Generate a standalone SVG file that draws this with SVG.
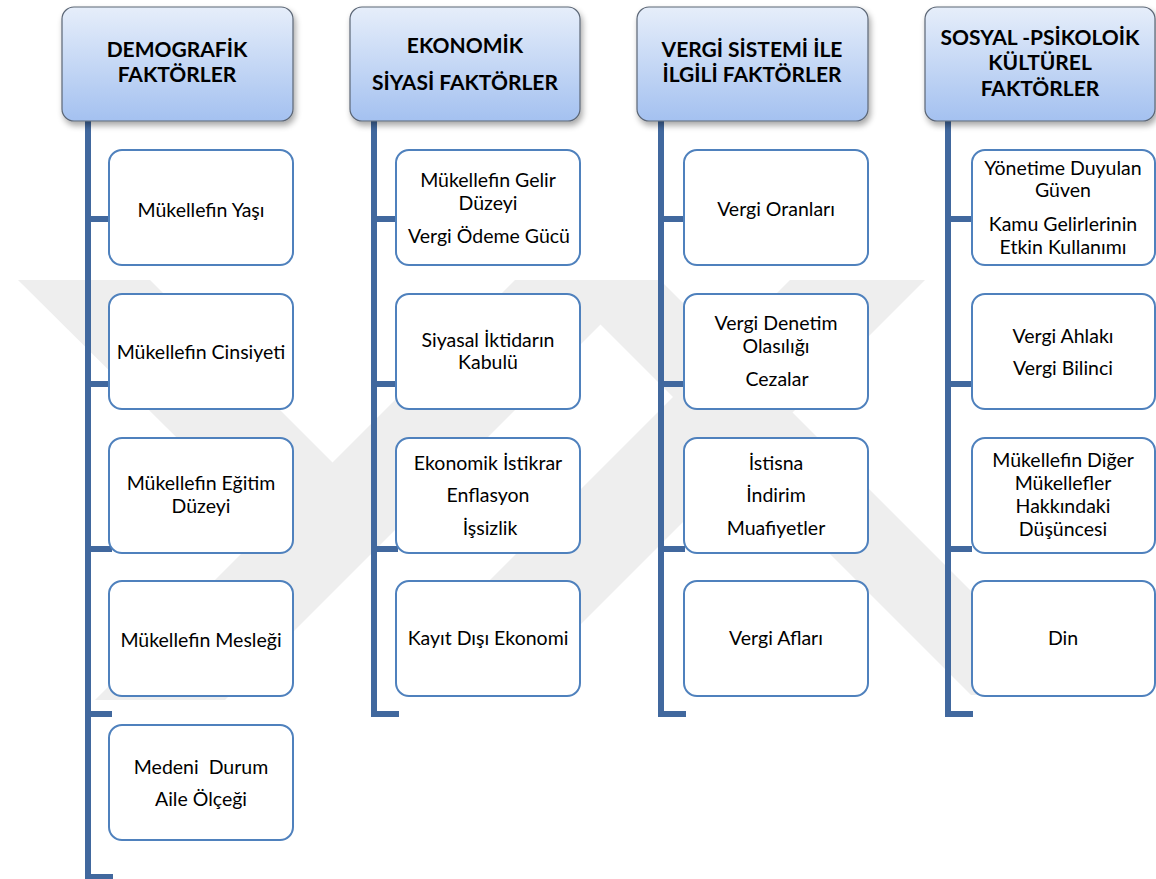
<svg xmlns="http://www.w3.org/2000/svg" width="1156" height="879" viewBox="0 0 1156 879">
<defs>
<linearGradient id="hg" x1="0" y1="0" x2="0" y2="1">
<stop offset="0" stop-color="#e6eefa"/>
<stop offset="1" stop-color="#a4c1f0"/>
</linearGradient>
<filter id="sh" x="-10%" y="-10%" width="125%" height="130%">
<feGaussianBlur in="SourceAlpha" stdDeviation="3"/>
<feOffset dx="2" dy="4" result="b"/>
<feComponentTransfer><feFuncA type="linear" slope="0.35"/></feComponentTransfer>
<feMerge><feMergeNode/><feMergeNode in="SourceGraphic"/></feMerge>
</filter>
</defs>
<style>
.hdr{fill:url(#hg);stroke:#5b6675;stroke-width:1.2}
.box{fill:#ffffff;stroke:#4f81bd;stroke-width:2}
.ht{font-family:Lato,"Liberation Sans",sans-serif;font-weight:bold;font-size:21px;fill:#000;text-anchor:middle}
.t{font-family:Lato,"Liberation Sans",sans-serif;font-size:19.5px;fill:#000;text-anchor:middle}
.ln{fill:none;stroke:#41689e;stroke-width:6}
.wm{fill:#eeeeee}
</style>
<rect width="1156" height="879" fill="#ffffff"/>
<g id="watermark">
<polygon class="wm" points="18,280 150,280 370,500 305,565"/>
<polygon class="wm" points="515,280 645,280 225,700 95,700"/>
<polygon class="wm" points="556,280 660,280 1075,695 971,695"/>
<polygon class="wm" points="790,280 925,280 560,645 425,645"/>
</g>
<g id="connectors">
<path class="ln" d="M88 121 V877 H113 M88 219 H112 M88 384 H112 M88 549 H112 M88 714 H112"/>
<path class="ln" d="M374 121 V714 H399 M374 219 H398 M374 384 H398 M374 549 H398"/>
<path class="ln" d="M661 121 V714 H686 M661 219 H685 M661 384 H685 M661 549 H685"/>
<path class="ln" d="M948 121 V714 H973 M948 219 H972 M948 384 H972 M948 549 H972"/>
</g>
<g id="h1"><rect class="hdr" filter="url(#sh)" x="62" y="7" width="231" height="114" rx="12"/><text class="ht" x="177" y="57">DEMOGRAFİK</text><text class="ht" x="177" y="82">FAKTÖRLER</text></g>
<g id="h2"><rect class="hdr" filter="url(#sh)" x="350" y="7" width="230" height="114" rx="12"/><text class="ht" x="465" y="53">EKONOMİK</text><text class="ht" x="465" y="90">SİYASİ FAKTÖRLER</text></g>
<g id="h3"><rect class="hdr" filter="url(#sh)" x="637" y="7" width="231" height="114" rx="12"/><text class="ht" x="752" y="57">VERGİ SİSTEMİ İLE</text><text class="ht" x="752" y="82">İLGİLİ FAKTÖRLER</text></g>
<g id="h4"><rect class="hdr" filter="url(#sh)" x="925" y="7" width="230" height="114" rx="12"/><text class="ht" x="1040" y="45">SOSYAL -PSİKOLOİK</text><text class="ht" x="1040" y="70">KÜLTÜREL</text><text class="ht" x="1040" y="96">FAKTÖRLER</text></g>

<g id="n1a"><rect class="box" x="109" y="150" width="184" height="115" rx="13"/><text class="t" x="201" y="217">Mükellefin Yaşı</text></g>
<g id="n1b"><rect class="box" x="109" y="294" width="184" height="115" rx="13"/><text class="t" x="201" y="359">Mükellefin Cinsiyeti</text></g>
<g id="n1c"><rect class="box" x="109" y="438" width="184" height="115" rx="13"/><text class="t" x="201" y="490">Mükellefin Eğitim</text><text class="t" x="201" y="513">Düzeyi</text></g>
<g id="n1d"><rect class="box" x="109" y="581" width="184" height="115" rx="13"/><text class="t" x="201" y="647">Mükellefin Mesleği</text></g>
<g id="n1e"><rect class="box" x="109" y="725" width="184" height="115" rx="13"/><text class="t" x="201" y="774" xml:space="preserve">Medeni  Durum</text><text class="t" x="201" y="806">Aile Ölçeği</text></g>

<g id="n2a"><rect class="box" x="396" y="150" width="184" height="115" rx="13"/><text class="t" x="488" y="187">Mükellefin Gelir</text><text class="t" x="488" y="210">Düzeyi</text><text class="t" x="489" y="243">Vergi Ödeme Gücü</text></g>
<g id="n2b"><rect class="box" x="396" y="294" width="184" height="115" rx="13"/><text class="t" x="488" y="347">Siyasal İktidarın</text><text class="t" x="488" y="369">Kabulü</text></g>
<g id="n2c"><rect class="box" x="396" y="438" width="184" height="115" rx="13"/><text class="t" x="488" y="470">Ekonomik İstikrar</text><text class="t" x="488" y="502">Enflasyon</text><text class="t" x="490" y="535">İşsizlik</text></g>
<g id="n2d"><rect class="box" x="396" y="581" width="184" height="115" rx="13"/><text class="t" x="488" y="645">Kayıt Dışı Ekonomi</text></g>

<g id="n3a"><rect class="box" x="684" y="150" width="184" height="115" rx="13"/><text class="t" x="776" y="216">Vergi Oranları</text></g>
<g id="n3b"><rect class="box" x="684" y="294" width="184" height="115" rx="13"/><text class="t" x="776" y="330">Vergi Denetim</text><text class="t" x="776" y="353">Olasılığı</text><text class="t" x="777" y="386">Cezalar</text></g>
<g id="n3c"><rect class="box" x="684" y="438" width="184" height="115" rx="13"/><text class="t" x="776" y="470">İstisna</text><text class="t" x="776" y="502">İndirim</text><text class="t" x="776" y="535">Muafiyetler</text></g>
<g id="n3d"><rect class="box" x="684" y="581" width="184" height="115" rx="13"/><text class="t" x="776" y="645">Vergi Afları</text></g>

<g id="n4a"><rect class="box" x="972" y="150" width="183" height="115" rx="13"/><text class="t" x="1063" y="175">Yönetime Duyulan</text><text class="t" x="1063" y="197">Güven</text><text class="t" x="1063" y="231">Kamu Gelirlerinin</text><text class="t" x="1063" y="254">Etkin Kullanımı</text></g>
<g id="n4b"><rect class="box" x="972" y="294" width="183" height="115" rx="13"/><text class="t" x="1063" y="343">Vergi Ahlakı</text><text class="t" x="1063" y="375">Vergi Bilinci</text></g>
<g id="n4c"><rect class="box" x="972" y="438" width="183" height="115" rx="13"/><text class="t" x="1063" y="467">Mükellefin Diğer</text><text class="t" x="1063" y="490">Mükellefler</text><text class="t" x="1063" y="513">Hakkındaki</text><text class="t" x="1063" y="536">Düşüncesi</text></g>
<g id="n4d"><rect class="box" x="972" y="581" width="183" height="115" rx="13"/><text class="t" x="1063" y="645">Din</text></g>
</svg>
